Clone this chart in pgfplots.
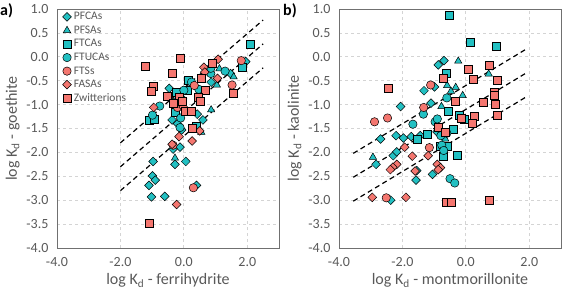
\documentclass[border=0pt]{standalone}
\usepackage{fontspec}
\setmainfont{Carlito}
\usepackage{pgfplots}
\pgfplotsset{compat=1.18}
\definecolor{tl}{HTML}{22C0C2}
\definecolor{sm}{HTML}{F4766F}
\definecolor{txt}{HTML}{595959}
\definecolor{frm}{HTML}{707070}
\definecolor{grd}{HTML}{D4D4D4}
\pgfplotsset{
  myax/.style={
    width=222pt, height=239pt, scale only axis,
    xmin=-4, xmax=3, ymin=-4, ymax=1,
    xtick={-4,-2,0,2}, ytick={-4,-3.5,...,1},
    grid=major, major grid style={dashed, grd, line width=0.8pt},
    axis line style={frm, line width=0.9pt},
    major tick length=0pt,
    tick label style={font=\fontsize{14}{16}\selectfont, text=txt},
    xticklabel style={yshift=-6pt},
    yticklabel style={xshift=-5pt},
    /pgf/number format/.cd, fixed, fixed zerofill, precision=1, assume math mode=true,
    /pgfplots/.cd,
    label style={font=\fontsize{16}{18}\selectfont, text=txt},
  },
  pfca/.style={only marks, mark=square*, mark size=3.1pt, mark options={fill=tl, draw=black, line width=0.5pt, rotate=45}},
  pfsa/.style={only marks, mark=triangle*, mark size=4.2pt, mark options={fill=tl, draw=black, line width=0.5pt}},
  ftca/.style={only marks, mark=square*, mark size=4.0pt, mark options={fill=tl, draw=black, line width=0.5pt}},
  ftuca/.style={only marks, mark=*, mark size=4.2pt, mark options={fill=tl, draw=black, line width=0.5pt}},
  fts/.style={only marks, mark=*, mark size=4.2pt, mark options={fill=sm, draw=black, line width=0.5pt}},
  fasa/.style={only marks, mark=square*, mark size=3.1pt, mark options={fill=sm, draw=black, line width=0.5pt, rotate=45}},
  zwit/.style={only marks, mark=square*, mark size=4.0pt, mark options={fill=sm, draw=black, line width=0.5pt}},
  fitline/.style={black, line width=1.2pt, dash pattern=on 5pt off 3.5pt, no marks, forget plot},
}
\begin{document}
\begin{tikzpicture}
\path[use as bounding box] (0pt,0pt) rectangle (567pt,295pt);
\node[anchor=north west, inner sep=0pt, font=\fontsize{16}{18}\selectfont\bfseries] at (0pt,292pt) {a)};
\node[anchor=north west, inner sep=0pt, font=\fontsize{16}{18}\selectfont\bfseries] at (283pt,292pt) {b)};
\begin{axis}[myax, at={(57pt,47pt)}, anchor=south west,
  xlabel={log K$_\mathrm{d}$ - ferrihydrite}, ylabel={log K$_\mathrm{d}$ - goethite},
  legend style={at={(0.02,0.995)}, anchor=north west, draw=none, fill=none,
    font=\fontsize{11.5}{13}\selectfont, text=txt, row sep=2.6pt, column sep=1.5pt, inner sep=1pt,
    nodes={inner sep=1pt}},
  legend cell align=left]
\addplot[fitline] coordinates {(-2,-1.8) (2.5,0.77)};
\addplot[fitline] coordinates {(-2,-2.3) (2.5,0.27)};
\addplot[fitline] coordinates {(-2,-2.8) (2.5,-0.23)};
\addplot[pfca] coordinates {(-0.46,-0.66) (1.95,-0.1) (1.47,-0.35) (0.86,-0.53) (-0.37,-1.32) (0.42,-1.2) (-0.07,-1.53) (0.6,-1.32) (-0.12,-1.89) (-0.34,-1.93) (-0.28,-2.25) (-0.97,-2.19) (0.06,-2.19) (-0.99,-2.49) (-0.9,-2.58) (-1.1,-2.69) (-1.02,-2.93) (-0.6,-2.92) (0.4,-2.69) (-0.2,-1.4) (-0.04,-0.88)};
\addlegendentry{PFCAs}
\addplot[pfsa] coordinates {(1.12,-0.25) (1.57,-0.42) (1.04,-0.59) (0.86,-1.11) (-0.28,-2.12) (0.55,-1.58)};
\addlegendentry{PFSAs}
\addplot[ftca] coordinates {(2.1,0.26) (1.83,-0.22) (0.13,-0.49) (0.12,-0.7) (-0.28,-1.16) (-1.09,-1.32) (-0.94,-1.31) (0.4,-1.45) (-0.25,-0.75)};
\addlegendentry{FTCAs}
\addplot[ftuca] coordinates {(1.3,-0.3) (0.85,-0.35) (0.24,-0.53) (0.47,-0.68) (-0.76,-1.03) (-0.99,-1.22) (-0.1,-1.28) (-0.12,-1.48) (0.85,-0.24) (-0.3,-0.95) (0.0,-0.7)};
\addlegendentry{FTUCAs}
\addplot[fts] coordinates {(1.81,-0.08) (1.52,-0.59) (0.33,-0.6) (-0.2,-1.06) (-0.34,-1.85) (0.3,-2.74)};
\addlegendentry{FTSs}
\addplot[fasa] coordinates {(1.08,-0.05) (0.63,-0.22) (0.66,-0.32) (1.06,-0.45) (-0.95,-1.06) (0.5,-1.55) (-0.15,-1.67) (0.26,-1.76) (-0.37,-1.83) (-0.23,-3.09) (-0.02,-1.05)};
\addlegendentry{FASAs}
\addplot[zwit] coordinates {(-1.21,-0.19) (-0.1,-0.02) (-0.37,-0.35) (-0.95,-0.61) (-1.02,-0.72) (0.88,-0.14) (0.54,-0.45) (1.55,-0.76) (0.69,-0.69) (0.44,-0.84) (0.51,-0.93) (-0.53,-0.83) (-0.16,-0.85) (-0.35,-0.98) (-0.05,-0.94) (0.03,-1.14) (0.24,-1.13) (0.26,-1.5) (-1.1,-3.49)};
\addlegendentry{Zwitterions}
\end{axis}
\begin{axis}[myax, at={(339pt,47pt)}, anchor=south west,
  xlabel={log K$_\mathrm{d}$ - montmorillonite}, ylabel={log K$_\mathrm{d}$ - kaolinite}]
\addplot[fitline] coordinates {(-3.55,-2.02) (1.9,0.16)};
\addplot[fitline] coordinates {(-3.55,-2.52) (1.9,-0.34)};
\addplot[fitline] coordinates {(-3.55,-3.02) (1.9,-0.84)};
\addplot[pfca] coordinates {(-0.69,-0.08) (-0.87,-0.17) (-0.99,-0.63) (-1.32,-0.71) (-1.1,-0.97) (-2.06,-1.04) (-2.69,-1.72) (-2.2,-1.65) (-1.97,-1.7) (-1.72,-1.67) (-1.44,-1.65) (-0.91,-1.57) (-2.83,-2.25) (-2.29,-2.07) (-2.18,-1.99) (-1.55,-2.38) (-1.57,-2.58) (-1.05,-2.46) (-2.37,-3.0)};
\addplot[pfsa] coordinates {(-0.24,-0.09) (0.72,-0.36) (-0.59,-0.6) (-0.47,-0.72) (-0.32,-0.64) (-0.1,-0.81) (-0.77,-1.04) (-2.93,-2.1) (-0.65,-1.72)};
\addplot[ftca] coordinates {(-0.51,0.86) (0.13,0.3) (0.97,0.23) (-0.61,-0.35) (-0.54,-1.13) (-0.22,-1.22) (-0.06,-1.3) (-0.41,-1.52) (-1.53,-1.73) (-1.22,-1.62) (-0.72,-2.09) (-0.26,-2.05) (-0.6,-1.87) (-0.8,-1.87)};
\addplot[ftuca] coordinates {(-0.6,-0.86) (-1.34,-1.2) (-1.67,-1.41) (-0.97,-1.36) (-0.79,-1.65) (-0.76,-1.85) (-0.7,-1.96) (-0.5,-2.55) (-0.35,-2.64) (-0.9,-1.3) (-0.6,-1.6)};
\addplot[fts] coordinates {(-1.11,-0.59) (-1.33,-1.06) (-2.47,-1.28) (-2.88,-1.36) (-1.15,-1.9) (-2.51,-2.95)};
\addplot[fasa] coordinates {(-1.93,-1.89) (-1.69,-2.08) (-2.18,-2.25) (-2.3,-2.31) (-2.38,-2.36) (-1.6,-2.39) (-1.19,-2.07) (-0.9,-2.25) (-0.8,-2.32) (-0.87,-2.36) (-2.95,-2.94) (-1.89,-2.94)};
\addplot[zwit] coordinates {(0.74,-0.17) (0.08,-0.25) (-0.72,-0.44) (0.24,-0.47) (1.0,-0.49) (0.91,-0.75) (0.91,-0.8) (-0.35,-0.92) (0.55,-0.95) (0.93,-1.0) (-0.15,-1.28) (0.28,-1.24) (0.19,-1.38) (0.99,-1.22) (-0.86,-1.48) (-0.66,-1.58) (-2.44,-0.66) (-0.61,-3.04) (-0.46,-3.04) (0.74,-3.01)};
\end{axis}
\end{tikzpicture}
\end{document}
